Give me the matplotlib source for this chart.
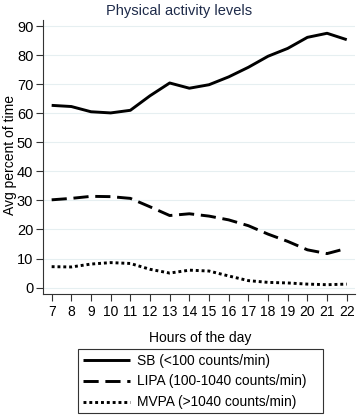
import matplotlib
matplotlib.use("Agg")
import matplotlib.pyplot as plt
from matplotlib.patches import Rectangle

plt.rcParams['font.family'] = ['Liberation Sans', 'DejaVu Sans']

hours = list(range(7, 23))
sb = [62.7, 62.3, 60.5, 60.1, 61.0, 66.0, 70.4, 68.6, 69.8, 72.5, 75.8, 79.6, 82.3, 86.1, 87.5, 85.3]
lipa = [30.2, 30.7, 31.4, 31.3, 30.7, 27.8, 24.8, 25.4, 24.6, 23.3, 21.3, 18.4, 15.9, 13.0, 11.7, 13.5]
mvpa = [7.2, 7.1, 8.1, 8.6, 8.3, 6.3, 5.0, 6.0, 5.7, 4.0, 2.4, 1.8, 1.6, 1.2, 1.0, 1.2]
yticks = [0, 10, 20, 30, 40, 50, 60, 70, 80, 90]
labels = ['SB (<100 counts/min)', 'LIPA (100-1040 counts/min)', 'MVPA (>1040 counts/min)']
title = 'Physical activity levels'
xlabel = 'Hours of the day'
ylabel = 'Avg percent of time'

W, H = 358, 415
fig = plt.figure(figsize=(W/100, H/100), dpi=100)
ax = fig.add_axes([43/W, 1-294/H, 312/W, (294-20.2)/H])

lw = 2.1
l1, = ax.plot(hours, sb, color='black', lw=lw, solid_capstyle='butt')
l2, = ax.plot(hours, lipa, color='black', lw=lw, linestyle=(0, (5.2, 2.3)), dash_capstyle='butt')
l3, = ax.plot(hours, mvpa, color='black', lw=lw, linestyle=(0, (1.0, 1.0)), dash_capstyle='butt')

ax.set_xlim(6.56, 22.42)
ax.set_ylim(-2.2, 92)
ax.set_xticks(hours)
ax.set_yticks(yticks)
ax.grid(axis='y', color='#e6eff1', lw=0.8)
ax.set_axisbelow(True)
for s in ['top', 'right']:
    ax.spines[s].set_visible(False)
for s in ['left', 'bottom']:
    ax.spines[s].set_color('#333333')
    ax.spines[s].set_linewidth(0.8)
ax.tick_params(axis='both', direction='out', length=5, width=0.8, color='#333333', labelsize=10.5, pad=2)
ax.tick_params(axis='x', labelsize=10, pad=3)

fig.text(0.5, 1-11/H, title, ha='center', va='center', fontsize=10.5, color='#1e2b4a')
fig.text(200/W, 1-338/H, xlabel, ha='center', va='center', fontsize=10)
fig.text(10/W, 1-155/H, ylabel, ha='center', va='center', fontsize=10, rotation=90)

leg = fig.legend([l1, l2, l3], labels, loc='center left', bbox_to_anchor=(83/W, 1-381.5/H),
                 fontsize=9.9, frameon=False, borderpad=0, borderaxespad=0,
                 handlelength=3.4, handletextpad=0.55, labelspacing=0.5)
fig.patches.append(Rectangle((78/W, 1-413/H), (323-78)/W, (413-349)/H, transform=fig.transFigure,
                             fill=False, edgecolor='#333333', lw=0.8))

fig.savefig('out.png', dpi=100)
